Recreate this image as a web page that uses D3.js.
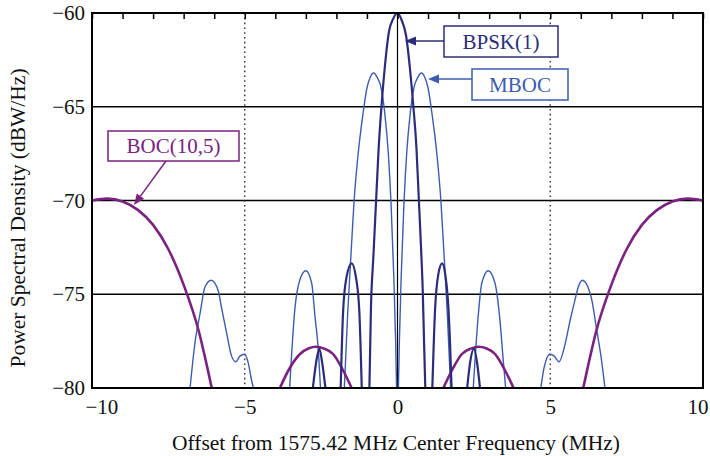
<!DOCTYPE html>
<html>
<head>
<meta charset="utf-8">
<script src="https://cdn.jsdelivr.net/npm/d3@7"></script>
<style>
  html, body { margin: 0; padding: 0; background: #fff; }
  svg { display: block; }
  text { font-family: "Liberation Serif", "DejaVu Serif", serif; }
</style>
</head>
<body>
<svg id="chart" width="710" height="456"></svg>
<script>
// Frequency offset (MHz) and power spectral density (dBW/Hz) for each signal.
// null entries break the trace where a lobe drops below the plotted floor.
const bpskFreq = [-2.77, -2.66, -2.56, -2.47, -2.36, null,
  -1.86, -1.78, -1.67, -1.50, -1.36, -1.25, -1.17, null,
  -0.92, -0.87, -0.79, -0.70, -0.62, -0.52, -0.41, -0.28, -0.14, 0, 0.14, 0.28, 0.41, 0.52, 0.62, 0.70, 0.77, 0.83, 0.87, 0.91, null,
  1.14, 1.23, 1.34, 1.46, 1.56, 1.65, 1.72, 1.77, null,
  2.28, 2.38, 2.50, 2.60, 2.70];
const bpskPsd = [-80, -78.6, -77.9, -78.6, -80, null,
  -80, -75.9, -74.1, -73.35, -74.1, -75.9, -80, null,
  -80, -75.8, -73.0, -70.0, -67.3, -64.9, -62.8, -61.0, -60.3, -60.0, -60.4, -61.2, -63.0, -65.0, -67.2, -70.0, -72.5, -75.0, -77.6, -80, null,
  -80, -75.8, -73.9, -73.35, -73.9, -75.3, -77.6, -80, null,
  -80, -78.6, -77.9, -78.6, -80];

const mbocFreq = [-6.79, -6.63, -6.46, -6.30, -6.10, -5.87, -5.75, -5.59, -5.43, -5.29, -5.16, -5.01, -4.88, -4.80, -4.72, null,
  -3.53, -3.36, -3.19, -3.00, -2.81, -2.70, -2.59, -2.52, null,
  -1.74, -1.63, -1.52, -1.42, -1.30, -1.14, -1.00, -0.90, -0.78, -0.66, -0.55, -0.42, -0.30, -0.21, -0.12, -0.06, -0.03, null,
  0.03, 0.06, 0.12, 0.21, 0.30, 0.42, 0.55, 0.66, 0.78, 0.90, 1.00, 1.14, 1.30, 1.42, 1.52, 1.63, 1.74, null,
  2.48, 2.64, 2.76, 2.97, 3.19, 3.36, 3.46, 3.54, null,
  4.69, 4.80, 4.99, 5.13, 5.29, 5.48, 5.65, 5.81, 5.92, 6.05, 6.23, 6.36, 6.52, 6.66, 6.79];
const mbocPsd = [-80, -77.6, -76.0, -74.6, -74.25, -74.8, -75.8, -77.1, -78.3, -78.6, -78.3, -78.2, -78.7, -79.4, -80, null,
  -80, -75.8, -74.2, -73.75, -74.4, -76.2, -78.0, -80, null,
  -80, -76.0, -72.8, -70.0, -67.7, -65.5, -64.0, -63.45, -63.2, -63.45, -63.9, -65.3, -67.5, -70.2, -74.1, -77.6, -80, null,
  -80, -77.6, -74.1, -70.2, -67.5, -65.3, -63.9, -63.45, -63.2, -63.45, -64.0, -65.5, -67.7, -70.0, -72.8, -76.0, -80, null,
  -80, -76.2, -74.4, -73.75, -74.4, -76.5, -78.5, -80, null,
  -80, -78.9, -78.2, -78.3, -78.6, -77.7, -76.4, -75.3, -74.6, -74.25, -74.6, -75.3, -76.9, -78.3, -80];

const bocFreq = [-10.0, -9.5, -9.0, -8.5, -8.0, -7.5, -7.0, -6.5, -6.2, -6.08, null,
  -3.85, -3.55, -3.2, -2.9, -2.67, -2.4, -2.1, -1.8, -1.5, null,
  1.5, 1.8, 2.1, 2.4, 2.65, 2.9, 3.2, 3.5, 3.8, null,
  6.08, 6.2, 6.5, 7.0, 7.5, 8.0, 8.5, 9.0, 9.5, 10.0];
const bocPsd = [-70.0, -69.9, -70.05, -70.5, -71.3, -72.6, -74.5, -77.0, -79.1, -80, null,
  -80, -79.0, -78.2, -77.88, -77.8, -77.9, -78.2, -79.0, -80, null,
  -80, -79.0, -78.2, -77.9, -77.8, -77.88, -78.2, -79.0, -80, null,
  -80, -79.1, -77.0, -74.5, -72.6, -71.3, -70.5, -70.05, -69.9, -70.0];

// Axis ticks
const xTickValues = [-10, -5, 0, 5, 10];
const yTickValues = [-80, -75, -70, -65, -60];
const xMinorTicks = d3.range(-10, 11, 1);
const hGrid = [-75, -70, -65];
const vDotted = [-5, 5];

// Series labels with callouts
const labels = [
  { text: "BPSK(1)", color: "#2b2c7c", box: [444, 26, 114, 31], from: [444, 41], to: [405, 41] },
  { text: "MBOC", color: "#3d5cb0", box: [472, 69, 96, 31], from: [472, 79], to: [428, 79] },
  { text: "BOC(10,5)", color: "#7b2280", box: [108, 131, 131, 30], from: [166, 161], to: [134, 205] }
];

const svg = d3.select("#chart");
const W = 710, H = 456;
const m = { left: 92, top: 13, right: 7, bottom: 68 };
const x = d3.scaleLinear().domain([-10, 10]).range([m.left, W - m.right]);
const y = d3.scaleLinear().domain([-80, -60]).range([H - m.bottom, m.top]);

svg.append("rect").attr("width", W).attr("height", H).attr("fill", "#fff");

svg.append("defs").append("clipPath").attr("id", "plot")
  .append("rect")
  .attr("x", x(-10)).attr("y", y(-60))
  .attr("width", x(10) - x(-10)).attr("height", y(-80) - y(-60));

// Grid
const grid = svg.append("g");
grid.selectAll("line.h").data(hGrid).join("line")
  .attr("x1", x(-10)).attr("x2", x(10))
  .attr("y1", d => y(d)).attr("y2", d => y(d))
  .attr("stroke", "#000").attr("stroke-width", 1.5);
grid.selectAll("line.v").data(vDotted).join("line")
  .attr("x1", d => x(d)).attr("x2", d => x(d))
  .attr("y1", y(-60)).attr("y2", y(-80))
  .attr("stroke", "#333").attr("stroke-width", 1.4)
  .attr("stroke-dasharray", "1.6,3.2");
grid.append("line")
  .attr("x1", x(0)).attr("x2", x(0))
  .attr("y1", y(-60)).attr("y2", y(-80))
  .attr("stroke", "#000").attr("stroke-width", 1.2);

// Curves
const line = d3.line()
  .defined(d => d[1] !== null)
  .x(d => x(d[0])).y(d => y(d[1]))
  .curve(d3.curveMonotoneX);
const zip = (f, p) => f.map((v, i) => [v, p[i]]);

const curves = svg.append("g").attr("clip-path", "url(#plot)");
curves.append("path").datum(zip(mbocFreq, mbocPsd))
  .attr("d", line).attr("fill", "none")
  .attr("stroke", "#3d5cb0").attr("stroke-width", 1.4);
curves.append("path").datum(zip(bocFreq, bocPsd))
  .attr("d", line).attr("fill", "none")
  .attr("stroke", "#7b2280").attr("stroke-width", 2.6);
curves.append("path").datum(zip(bpskFreq, bpskPsd))
  .attr("d", line).attr("fill", "none")
  .attr("stroke", "#2b2c7c").attr("stroke-width", 2.2);

// Minor ticks along the top edge
const topAxis = svg.append("g").attr("transform", `translate(0,${y(-60)})`)
  .call(d3.axisTop(x).tickValues(xMinorTicks).tickSize(-6).tickFormat(""));
topAxis.select(".domain").remove();
topAxis.selectAll("line").attr("stroke", "#000").attr("stroke-width", 1.5);

// Frame
svg.append("rect")
  .attr("x", x(-10)).attr("y", y(-60))
  .attr("width", x(10) - x(-10)).attr("height", y(-80) - y(-60))
  .attr("fill", "none").attr("stroke", "#000").attr("stroke-width", 2);

const fmt = d => (d < 0 ? "\u2212" + Math.abs(d) : String(d));

const yAxis = svg.append("g").attr("transform", `translate(${x(-10)},0)`)
  .call(d3.axisLeft(y).tickValues(yTickValues).tickSize(0).tickPadding(7).tickFormat(fmt));
yAxis.select(".domain").remove();
yAxis.selectAll("text").attr("font-size", 21).attr("fill", "#111")
  .style("font-family", "'Liberation Serif', serif");

const xAxis = svg.append("g").attr("transform", `translate(0,${y(-80)})`)
  .call(d3.axisBottom(x).tickValues(xTickValues).tickSize(0).tickPadding(11).tickFormat(fmt));
xAxis.select(".domain").remove();
xAxis.selectAll("text").attr("font-size", 21).attr("fill", "#111")
  .style("font-family", "'Liberation Serif', serif")
  .attr("text-anchor", d => d === -10 ? "start" : d === 10 ? "end" : "middle")
  .attr("dx", d => d === -10 ? -7 : d === 10 ? 5 : 0);

// Axis titles
svg.append("text")
  .attr("x", 396).attr("y", 450)
  .attr("text-anchor", "middle").attr("font-size", 21.5).attr("fill", "#111")
  .text("Offset from 1575.42 MHz Center Frequency (MHz)");
svg.append("text")
  .attr("transform", `translate(25,218) rotate(-90)`)
  .attr("text-anchor", "middle").attr("font-size", 21.5).attr("fill", "#111")
  .text("Power Spectral Density (dBW/Hz)");

// Callout labels
const lg = svg.append("g");
labels.forEach(l => {
  const [bx, by, bw, bh] = l.box;
  lg.append("rect").attr("x", bx).attr("y", by).attr("width", bw).attr("height", bh)
    .attr("fill", "#fff").attr("stroke", l.color).attr("stroke-width", 1.5);
  lg.append("text").attr("x", bx + bw / 2).attr("y", by + bh / 2 + 7)
    .attr("text-anchor", "middle").attr("font-size", 21).attr("fill", l.color)
    .text(l.text);
  const [x1, y1] = l.from, [x2, y2] = l.to;
  const ang = Math.atan2(y2 - y1, x2 - x1);
  const len = 11, half = 4.5;
  const bxp = x2 - len * Math.cos(ang), byp = y2 - len * Math.sin(ang);
  lg.append("line").attr("x1", x1).attr("y1", y1).attr("x2", bxp).attr("y2", byp)
    .attr("stroke", l.color).attr("stroke-width", 1.5);
  const px = -Math.sin(ang), py = Math.cos(ang);
  lg.append("path")
    .attr("d", `M${x2},${y2}L${bxp + half * px},${byp + half * py}L${bxp - half * px},${byp - half * py}Z`)
    .attr("fill", l.color);
});
</script>
</body>
</html>
